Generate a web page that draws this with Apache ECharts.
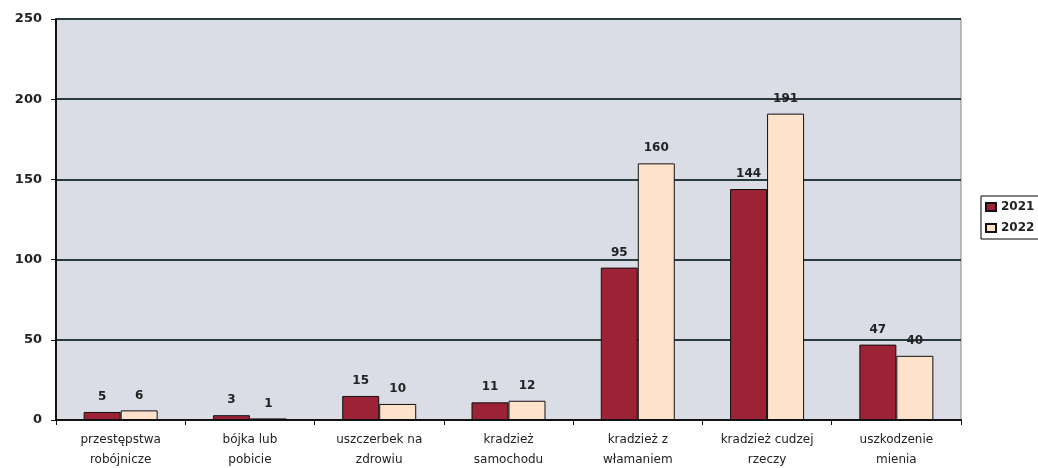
<!DOCTYPE html>
<html>
<head>
<meta charset="utf-8">
<script src="https://cdn.jsdelivr.net/npm/echarts@6/dist/echarts.min.js"></script>
<style>
  html, body { margin: 0; padding: 0; background: #fff; }
  #chart { width: 1038px; height: 468px; }
</style>
</head>
<body>
<div id="chart"></div>
<script>
// dane z wykresu
var categories = [
  'przestępstwa\nrobójnicze',
  'bójka lub\npobicie',
  'uszczerbek na\nzdrowiu',
  'kradzież\nsamochodu',
  'kradzież z\nwłamaniem',
  'kradzież cudzej\nrzeczy',
  'uszkodzenie\nmienia'
];
var values2021 = [5, 3, 15, 11, 95, 144, 47];
var values2022 = [6, 1, 10, 12, 160, 191, 40];
var yTicks = [0, 50, 100, 150, 200, 250];

var labelStyle = {
  show: true,
  position: 'top',
  distance: 9,
  color: '#222',
  fontSize: 12,
  fontWeight: 'bold',
  fontFamily: 'DejaVu Sans'
};

var chart = echarts.init(document.getElementById('chart'));
chart.setOption({
  animation: false,
  backgroundColor: '#fff',
  grid: {
    left: 56, right: 77, top: 19, bottom: 48,
    outerBoundsMode: 'none',
    show: true,
    backgroundColor: '#dadce6',
    borderColor: '#888',
    borderWidth: 1
  },
  legend: {
    orient: 'vertical',
    left: 981,
    top: 196,
    padding: [5, 20, 5, 4],
    itemGap: 9,
    itemWidth: 10,
    itemHeight: 8,
    borderColor: '#000',
    borderWidth: 1,
    icon: 'rect',
    textStyle: { color: '#222', fontSize: 12, fontWeight: 'bold', fontFamily: 'DejaVu Sans' },
    data: ['2021', '2022']
  },
  xAxis: {
    type: 'category',
    data: categories,
    axisLine: { lineStyle: { color: '#111', width: 2 } },
    axisTick: { show: true, length: 5, lineStyle: { color: '#111' } },
    axisLabel: {
      color: '#222',
      fontSize: 12,
      fontFamily: 'DejaVu Sans',
      lineHeight: 20,
      margin: 10,
      interval: 0
    }
  },
  yAxis: {
    type: 'value',
    min: yTicks[0],
    max: yTicks[yTicks.length - 1],
    interval: 50,
    axisLine: { show: true, lineStyle: { color: '#111', width: 2 } },
    axisTick: { show: true, length: 5, lineStyle: { color: '#111' } },
    axisLabel: {
      color: '#222',
      fontSize: 13,
      fontWeight: 'bold',
      fontFamily: 'DejaVu Sans',
      margin: 14
    },
    splitLine: { lineStyle: { color: '#2a3a3a', width: 2 } }
  },
  series: [
    {
      name: '2021',
      type: 'bar',
      data: values2021,
      barWidth: 37,
      barGap: '0%',
      itemStyle: { color: '#9b2335', borderColor: '#111', borderWidth: 1 },
      label: labelStyle
    },
    {
      name: '2022',
      type: 'bar',
      data: values2022,
      barWidth: 37,
      itemStyle: { color: '#fde3cc', borderColor: '#111', borderWidth: 1 },
      label: labelStyle
    }
  ]
});
</script>
</body>
</html>
